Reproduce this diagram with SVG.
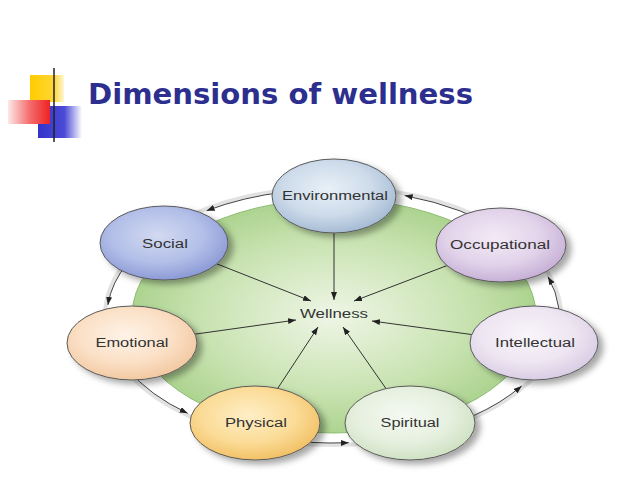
<svg xmlns="http://www.w3.org/2000/svg" width="638" height="479" viewBox="0 0 638 479">
<defs>
<style>
.lbl{font-family:"Liberation Sans",Arial,sans-serif;font-size:12px;fill:#333;text-anchor:middle}
.node{stroke:#5a5a5a;stroke-width:1}
.ring{fill:none;stroke:#444;stroke-width:1;marker-end:url(#ah)}
.spoke{fill:none;stroke:#333;stroke-width:1;marker-end:url(#ah)}
</style>
<marker id="ah" markerUnits="userSpaceOnUse" markerWidth="9" markerHeight="7" refX="8" refY="3" orient="auto">
<path d="M0,0 L8,3 L0,6 z" fill="#222"/>
</marker>
<filter id="sh" x="-20%" y="-20%" width="150%" height="160%">
<feDropShadow dx="5" dy="4" stdDeviation="3" flood-color="#000" flood-opacity="0.35"/>
</filter>
<radialGradient id="gGreen" cx="50%" cy="50%" r="55%">
<stop offset="0" stop-color="#eef6e6"/><stop offset="0.6" stop-color="#c8e2b0"/><stop offset="1" stop-color="#a4cf86"/>
</radialGradient>
<radialGradient id="gEnv" cx="45%" cy="40%" r="60%"><stop offset="0" stop-color="#e8f0f7"/><stop offset="0.6" stop-color="#cddbea"/><stop offset="1" stop-color="#a6bcd4"/></radialGradient>
<radialGradient id="gSoc" cx="45%" cy="40%" r="60%"><stop offset="0" stop-color="#d2d9f1"/><stop offset="0.6" stop-color="#b3bfe8"/><stop offset="1" stop-color="#8c9bd6"/></radialGradient>
<radialGradient id="gOcc" cx="45%" cy="40%" r="60%"><stop offset="0" stop-color="#f3eaf6"/><stop offset="0.6" stop-color="#e2d3ea"/><stop offset="1" stop-color="#c7b1d7"/></radialGradient>
<radialGradient id="gEmo" cx="45%" cy="40%" r="60%"><stop offset="0" stop-color="#fef3e7"/><stop offset="0.6" stop-color="#fbe0c6"/><stop offset="1" stop-color="#f2c9a2"/></radialGradient>
<radialGradient id="gInt" cx="45%" cy="40%" r="60%"><stop offset="0" stop-color="#f9f5fa"/><stop offset="0.6" stop-color="#eee6f2"/><stop offset="1" stop-color="#d9cde4"/></radialGradient>
<radialGradient id="gPhy" cx="45%" cy="40%" r="60%"><stop offset="0" stop-color="#feeec6"/><stop offset="0.6" stop-color="#fbdc98"/><stop offset="1" stop-color="#f2c167"/></radialGradient>
<radialGradient id="gSpi" cx="45%" cy="40%" r="60%"><stop offset="0" stop-color="#f5f9f2"/><stop offset="0.6" stop-color="#e6f0df"/><stop offset="1" stop-color="#cfe2c4"/></radialGradient>
<linearGradient id="gLine" x1="0" y1="0" x2="1" y2="0"><stop offset="0" stop-color="#333"/><stop offset="0.5" stop-color="#999"/><stop offset="1" stop-color="#e8e8e8"/></linearGradient>
<linearGradient id="gRed" x1="1" y1="0" x2="0" y2="0"><stop offset="0" stop-color="#ee2222"/><stop offset="0.5" stop-color="#f57070"/><stop offset="1" stop-color="#fde8e8"/></linearGradient>
<linearGradient id="gBlue" x1="0" y1="0" x2="1" y2="0"><stop offset="0" stop-color="#3333cc"/><stop offset="0.6" stop-color="#4b4bd6"/><stop offset="1" stop-color="#ffffff"/></linearGradient>
<linearGradient id="gYel" x1="0" y1="0" x2="1" y2="0"><stop offset="0" stop-color="#ffcc00"/><stop offset="0.7" stop-color="#ffd633"/><stop offset="1" stop-color="#fff7d6"/></linearGradient>
</defs>
<rect width="638" height="479" fill="#ffffff"/>
<g id="title-decoration">
<rect x="30" y="75" width="34" height="27" fill="url(#gYel)"/>
<rect x="38" y="106" width="44" height="32" fill="url(#gBlue)"/>
<rect x="8" y="100" width="42" height="24" fill="url(#gRed)"/>
<line x1="30" y1="125" x2="638" y2="125" stroke="url(#gLine)" stroke-width="1.5"/>
<line x1="54" y1="68" x2="54" y2="142" stroke="#222" stroke-width="1.5"/>
<text x="88" y="104" font-family="'DejaVu Sans','Liberation Sans',sans-serif" font-weight="bold" font-size="28" fill="#2d2f8f" textLength="385" lengthAdjust="spacingAndGlyphs">Dimensions of wellness</text>
</g>
<g id="background">
<ellipse cx="333" cy="316" rx="228" ry="129" fill="none" stroke="#e2e2e2" stroke-width="4"/>
<ellipse cx="334" cy="316" rx="202" ry="117" fill="url(#gGreen)" stroke="#8fbd74" stroke-width="1"/>
</g>
<g id="connectors">
<path class="ring" d="M286.0,191.8 A226,127 0 0 0 206.6,210.7"/>
<path class="ring" d="M128.2,262.3 A226,127 0 0 0 107.9,304.9"/>
<path class="ring" d="M128.2,369.7 A226,127 0 0 0 187.7,413.3"/>
<path class="ring" d="M274.5,438.7 A226,127 0 0 0 348.8,442.7"/>
<path class="ring" d="M410.3,435.3 A226,127 0 0 0 521.7,385.9"/>
<path class="ring" d="M555.6,338.0 A226,127 0 0 0 548.0,276.8"/>
<path class="ring" d="M506.1,234.4 A226,127 0 0 0 404.7,195.6"/>
<line class="spoke" x1="334" y1="196" x2="334" y2="300"/>
<line class="spoke" x1="164" y1="243" x2="311" y2="301"/>
<line class="spoke" x1="501" y1="245" x2="354" y2="301"/>
<line class="spoke" x1="132" y1="343" x2="296" y2="320"/>
<line class="spoke" x1="534" y1="343" x2="372" y2="321"/>
<line class="spoke" x1="255" y1="423" x2="318" y2="327"/>
<line class="spoke" x1="410" y1="423" x2="343" y2="327"/>
</g>
<g id="wellness">
<text class="lbl" x="334" y="318" textLength="68" lengthAdjust="spacingAndGlyphs">Wellness</text>
</g>
<g id="environmental">
<ellipse class="node" cx="334" cy="196" rx="62" ry="37" fill="url(#gEnv)" filter="url(#sh)"/>
<text class="lbl" x="335" y="200" textLength="106" lengthAdjust="spacingAndGlyphs">Environmental</text>
</g>
<g id="social">
<ellipse class="node" cx="164" cy="243" rx="64" ry="37" fill="url(#gSoc)" filter="url(#sh)"/>
<text class="lbl" x="165" y="248" textLength="46" lengthAdjust="spacingAndGlyphs">Social</text>
</g>
<g id="occupational">
<ellipse class="node" cx="501" cy="245" rx="65" ry="37" fill="url(#gOcc)" filter="url(#sh)"/>
<text class="lbl" x="500" y="249" textLength="100" lengthAdjust="spacingAndGlyphs">Occupational</text>
</g>
<g id="emotional">
<ellipse class="node" cx="132" cy="343" rx="65" ry="37" fill="url(#gEmo)" filter="url(#sh)"/>
<text class="lbl" x="132" y="347" textLength="73" lengthAdjust="spacingAndGlyphs">Emotional</text>
</g>
<g id="intellectual">
<ellipse class="node" cx="534" cy="343" rx="64" ry="37" fill="url(#gInt)" filter="url(#sh)"/>
<text class="lbl" x="535" y="347" textLength="80" lengthAdjust="spacingAndGlyphs">Intellectual</text>
</g>
<g id="physical">
<ellipse class="node" cx="255" cy="423" rx="65" ry="37" fill="url(#gPhy)" filter="url(#sh)"/>
<text class="lbl" x="256" y="427" textLength="62" lengthAdjust="spacingAndGlyphs">Physical</text>
</g>
<g id="spiritual">
<ellipse class="node" cx="410" cy="423" rx="65" ry="37" fill="url(#gSpi)" filter="url(#sh)"/>
<text class="lbl" x="410" y="427" textLength="59" lengthAdjust="spacingAndGlyphs">Spiritual</text>
</g>
</svg>
